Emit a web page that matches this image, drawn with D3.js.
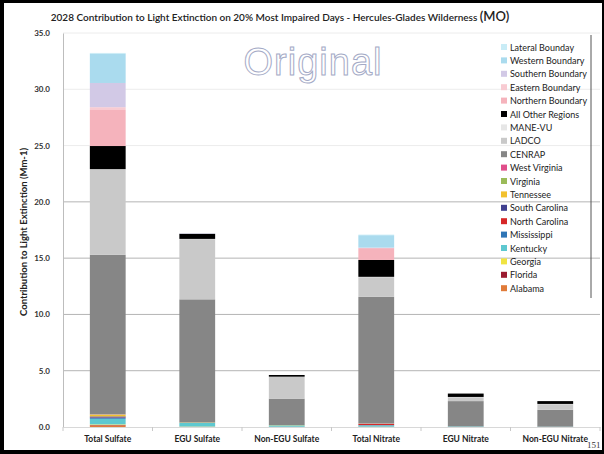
<!DOCTYPE html>
<html>
<head>
<meta charset="utf-8">
<script src="https://cdn.jsdelivr.net/npm/d3@7"></script>
<style>
  body { margin: 0; background: #fff; }
  text { font-family: Lato, "Open Sans", sans-serif; }
</style>
</head>
<body>
<div id="chart"></div>
<script>
// categories along the x axis
const categories = ["Total Sulfate", "EGU Sulfate", "Non-EGU Sulfate", "Total Nitrate", "EGU Nitrate", "Non-EGU Nitrate"];

// source regions, stacked bottom -> top
const sources = ["Alabama", "Florida", "Georgia", "Kentucky", "Mississippi", "North Carolina",
  "South Carolina", "Tennessee", "Virginia", "West Virginia", "CENRAP", "LADCO", "MANE-VU",
  "All Other Regions", "Northern Boundary", "Eastern Boundary", "Southern Boundary",
  "Western Boundary", "Lateral Bounday"];

const sourceColors = ["#e07b39", "#9b1b30", "#f0e442", "#5ec8d0", "#2e75b6", "#d62728",
  "#3f3f8f", "#f2c12e", "#9bbb59", "#e04e8a", "#868686", "#c9c9c9", "#e6e6e6",
  "#000000", "#f5b3bc", "#f8cbd2", "#d2c9e6", "#aadbee", "#c9ecf6"];

// contributions (Mm-1) per category, same order as sources
const totalSulfate  = [0.15, 0.03, 0.05, 0.5, 0.08, 0.03, 0.1, 0.15, 0.03, 0.02, 14.16, 7.55, 0.05, 2.06, 3.2, 0.25, 2.15, 2.62, 0.05];
const eguSulfate    = [0.02, 0, 0.02, 0.33, 0.02, 0, 0.02, 0.03, 0, 0, 10.9, 5.35, 0.02, 0.45, 0.02, 0, 0.02, 0.02, 0];
const nonEguSulfate = [0.02, 0, 0, 0.13, 0, 0, 0, 0.02, 0, 0, 2.35, 1.93, 0.02, 0.15, 0, 0, 0, 0, 0];
const totalNitrate  = [0.03, 0, 0, 0.12, 0.02, 0.1, 0, 0.02, 0, 0.02, 11.25, 1.75, 0.03, 1.5, 1.05, 0, 0.05, 1.1, 0.05];
const eguNitrate    = [0, 0, 0, 0.05, 0, 0, 0, 0, 0, 0, 2.25, 0.35, 0.02, 0.3, 0, 0, 0, 0, 0];
const nonEguNitrate = [0, 0, 0, 0.03, 0, 0, 0, 0, 0, 0, 1.5, 0.5, 0.02, 0.25, 0, 0, 0, 0, 0];

const yTicks = [0, 5, 10, 15, 20, 25, 30, 35];

const w = 604, h = 454;
const margin = { top: 33, bottom: 27, left: 63, right: 4 };

// build rows for d3.stack
let columns = [totalSulfate, eguSulfate, nonEguSulfate, totalNitrate, eguNitrate, nonEguNitrate];
let table = categories.map((c, i) => {
  let row = { category: c };
  sources.forEach((s, j) => { row[s] = columns[i][j]; });
  return row;
});

let stacked = d3.stack().keys(sources)(table);

let svg = d3.select("#chart")
            .append("svg")
            .attr("width", w)
            .attr("height", h);

svg.append("rect").attr("width", w).attr("height", h).attr("fill", "#fff");

let x = d3.scaleBand()
          .domain(categories)
          .range([margin.left, w - margin.right])
          .paddingInner(0.6)
          .paddingOuter(0.3);

let y = d3.scaleLinear()
          .domain([0, 35])
          .range([h - margin.bottom, margin.top]);

// gridlines (upper ones are very faint in the original)
svg.append("g")
  .selectAll("line")
  .data(yTicks.filter(t => t > 0))
  .enter()
  .append("line")
  .attr("x1", margin.left)
  .attr("x2", w - margin.right)
  .attr("y1", d => y(d))
  .attr("y2", d => y(d))
  .attr("stroke", d => d > 20 ? "#ececec" : "#b4b4b4")
  .attr("stroke-width", 1);

// watermark
svg.append("text")
  .attr("x", 313)
  .attr("y", 75)
  .attr("text-anchor", "middle")
  .style("font-family", "'Liberation Sans', Arial, sans-serif")
  .style("font-size", "38px")
  .style("letter-spacing", "1px")
  .attr("fill", "none")
  .attr("stroke", "#a4aac6")
  .attr("stroke-width", 1)
  .text("Original");

// stacked bars
svg.append("g")
  .selectAll("g")
  .data(stacked)
  .enter()
  .append("g")
  .attr("fill", (d, i) => sourceColors[i])
  .selectAll("rect")
  .data(d => d)
  .enter()
  .append("rect")
  .attr("x", d => x(d.data.category))
  .attr("width", x.bandwidth())
  .attr("y", d => y(d[1]))
  .attr("height", d => y(d[0]) - y(d[1]));

// y axis
let yAxis = d3.axisLeft(y)
              .tickValues(yTicks)
              .tickFormat(d3.format(".1f"))
              .tickSize(0)
              .tickPadding(13);

let yg = svg.append("g")
  .attr("transform", `translate(${margin.left},0)`)
  .call(yAxis);
yg.select(".domain").attr("stroke", "#bdbdbd");
yg.selectAll("text")
  .style("font-size", "8px")
  .style("font-weight", "bold")
  .attr("fill", "#333");

// x axis
let xAxis = d3.axisBottom(x).tickSize(0).tickPadding(9);
let xg = svg.append("g")
  .attr("transform", `translate(0,${h - margin.bottom})`)
  .call(xAxis);
xg.select(".domain").attr("stroke", "#d8d8d8");
xg.selectAll("text")
  .style("font-size", "8.5px")
  .style("font-weight", "bold")
  .attr("fill", "#222");

// little ticks between categories
xg.selectAll(".sep")
  .data(d3.range(categories.length + 1))
  .enter()
  .append("line")
  .attr("x1", i => margin.left + i * x.step())
  .attr("x2", i => margin.left + i * x.step())
  .attr("y1", 0)
  .attr("y2", 4)
  .attr("stroke", "#c8c8c8");

// y axis title
svg.append("text")
  .attr("transform", "translate(27,232) rotate(-90)")
  .attr("text-anchor", "middle")
  .style("font-size", "9.5px")
  .style("font-weight", "bold")
  .attr("fill", "#222")
  .text("Contribution to Light Extinction (Mm-1)");

// title
let title = svg.append("text")
  .attr("x", 280)
  .attr("y", 21)
  .attr("text-anchor", "middle")
  .attr("fill", "#222")
  .style("font-size", "10px")
  .style("font-weight", "600");
title.append("tspan").text("2028 Contribution to Light Extinction on 20% Most Impaired Days - Hercules-Glades Wilderness ");
title.append("tspan").style("font-size", "13px").text("(MO)");

// legend, top entry = top of the stack
let legendItems = sources.map((s, i) => ({ name: s, color: sourceColors[i] })).reverse();

let legend = svg.append("g");
legend.selectAll("rect")
  .data(legendItems)
  .enter()
  .append("rect")
  .attr("x", 501)
  .attr("y", (d, i) => 44 + i * 13.4)
  .attr("width", 6)
  .attr("height", 6)
  .attr("fill", d => d.color);

legend.selectAll("text")
  .data(legendItems)
  .enter()
  .append("text")
  .attr("x", 510)
  .attr("y", (d, i) => 50.5 + i * 13.4)
  .style("font-size", "9px")
  .attr("fill", "#222")
  .text(d => d.name);

legend.append("line")
  .attr("x1", 591).attr("x2", 591)
  .attr("y1", 35).attr("y2", 298)
  .attr("stroke", "#555");

// page number
svg.append("text")
  .attr("x", 587)
  .attr("y", 448)
  .style("font-family", "'Liberation Serif', serif")
  .style("font-size", "9px")
  .attr("fill", "#333")
  .text("151");

// black frame round the slide
svg.append("rect").attr("x", 0).attr("y", 0).attr("width", 4).attr("height", h).attr("fill", "#000");
svg.append("rect").attr("x", 0).attr("y", 0).attr("width", w).attr("height", 3).attr("fill", "#000");
svg.append("rect").attr("x", 0).attr("y", 450).attr("width", w).attr("height", 4).attr("fill", "#000");
svg.append("rect").attr("x", 602).attr("y", 0).attr("width", 2).attr("height", h).attr("fill", "#000");
</script>
</body>
</html>
